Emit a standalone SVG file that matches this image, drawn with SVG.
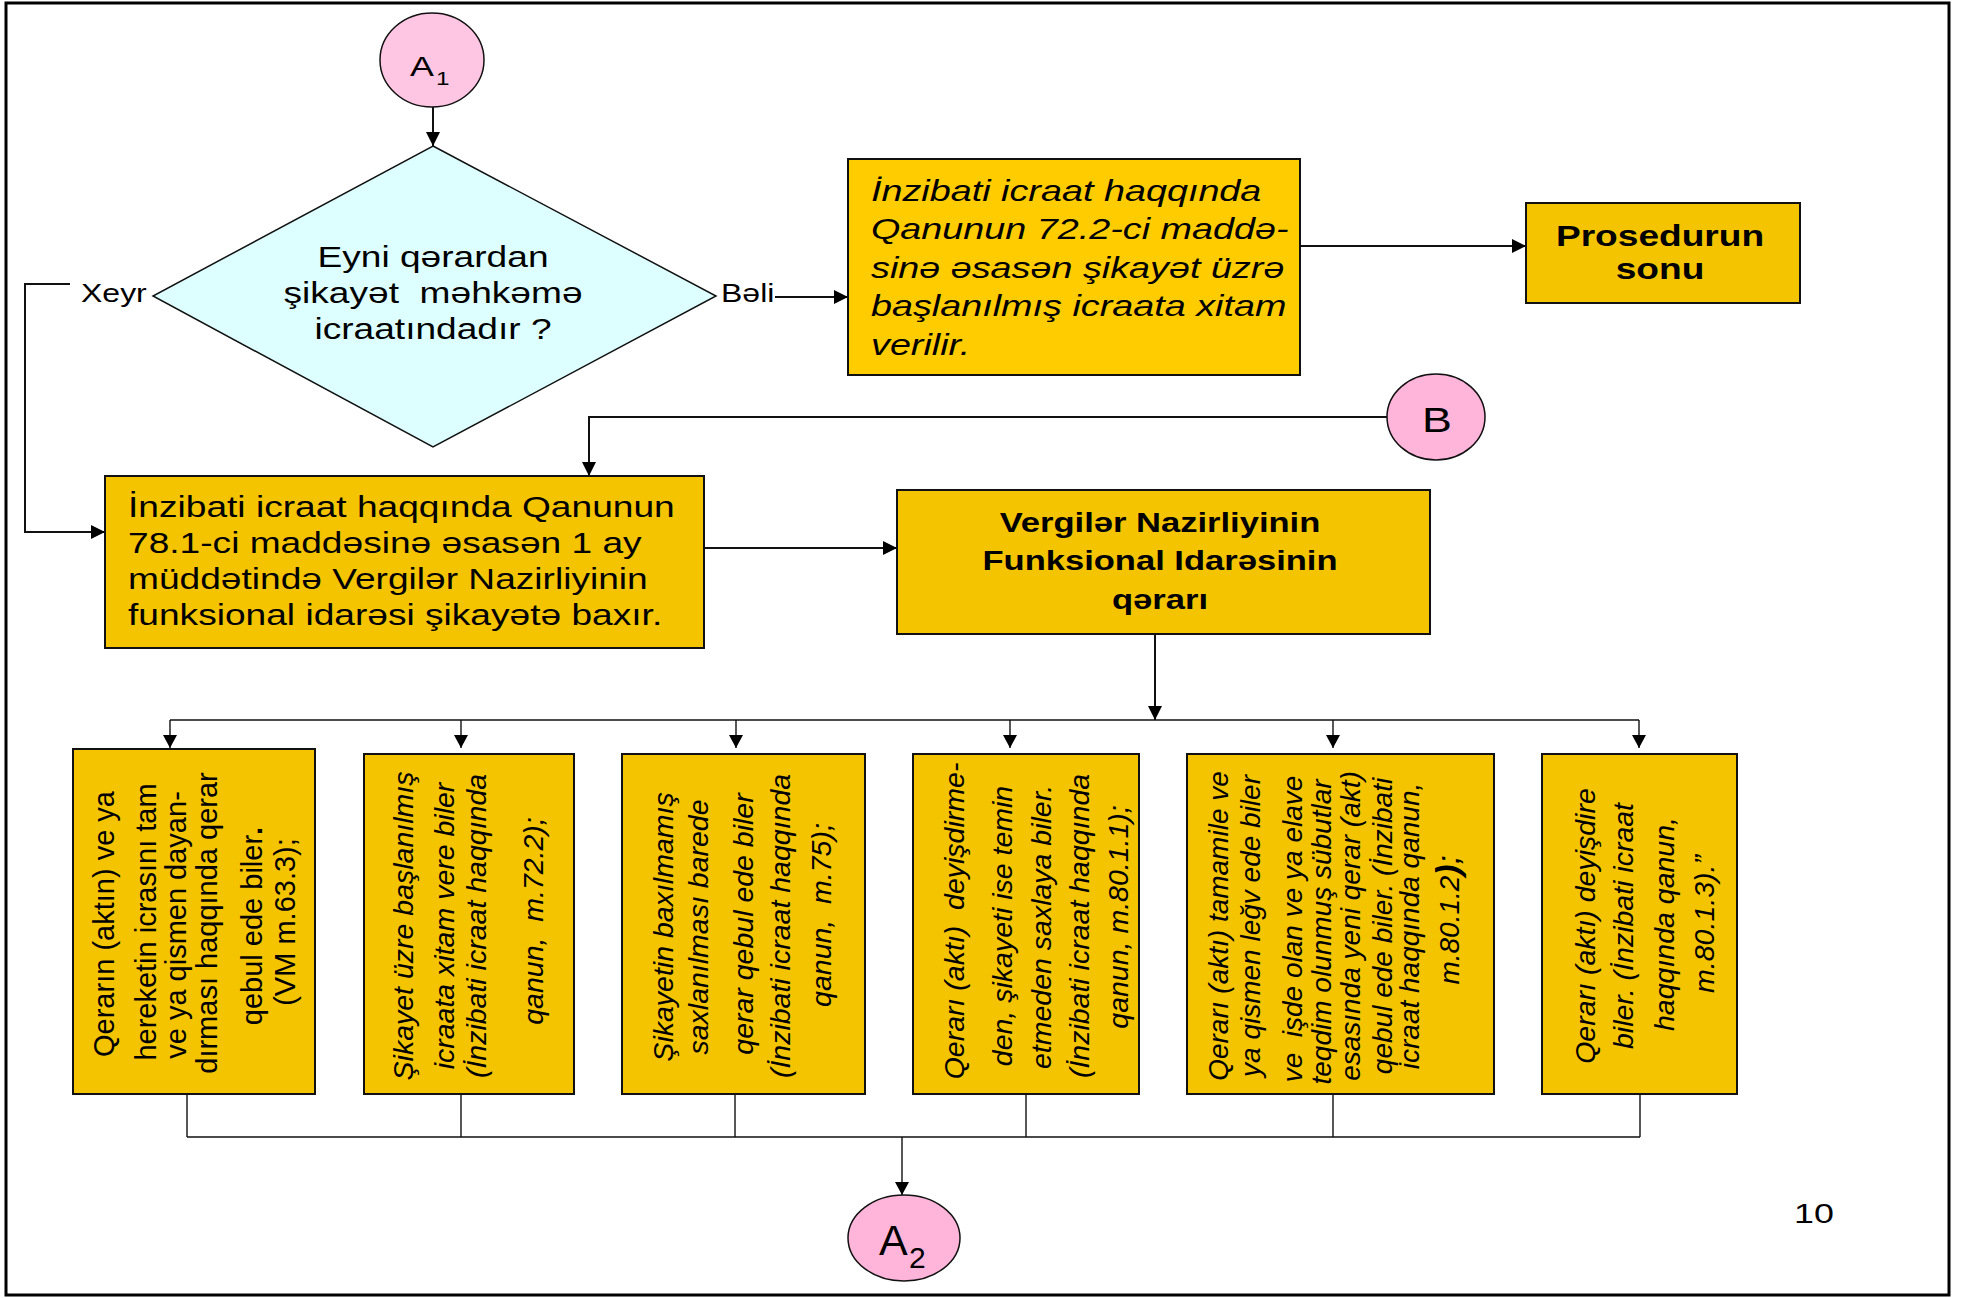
<svg xmlns="http://www.w3.org/2000/svg" width="1964" height="1298" viewBox="0 0 1964 1298">
<style>
text{font-family:"Liberation Sans",Arial,sans-serif;fill:#000}
.t29{font-size:29px}
.t27{font-size:27px}
.it{font-style:italic}
.b{font-weight:bold}
.box{fill:#F5C400;stroke:#111;stroke-width:2}
.pink{stroke:#111;stroke-width:1.5}
.con{fill:none;stroke:#111;stroke-width:2}
.thin{fill:none;stroke:#111;stroke-width:1.4}
.vr{font-size:29px;text-anchor:middle}
.vi{font-size:28.5px;font-style:italic;text-anchor:middle}
</style>
<defs>
<marker id="ah" markerUnits="userSpaceOnUse" markerWidth="14" markerHeight="14" refX="14" refY="7" orient="auto"><path d="M0,0 L14,7 L0,14 z" fill="#000"/></marker>
<marker id="as" markerUnits="userSpaceOnUse" markerWidth="13" markerHeight="14" refX="13" refY="7" orient="auto"><path d="M0,0 L13,7 L0,14 z" fill="#000"/></marker>
</defs>
<rect x="0" y="0" width="1964" height="1298" fill="#fff"/>
<rect x="6" y="3" width="1943" height="1292" fill="none" stroke="#000" stroke-width="3"/>

<g id="connectors">
<path class="con" d="M433,107 V146" marker-end="url(#ah)"/>
<path class="con" d="M70,284 H25 V532 H105" marker-end="url(#ah)"/>
<path class="con" d="M775,297 H848" marker-end="url(#ah)"/>
<path class="con" d="M1300,246 H1526" marker-end="url(#ah)"/>
<path class="con" d="M1387,417 H589 V476" marker-end="url(#ah)"/>
<path class="con" d="M704,548 H897" marker-end="url(#ah)"/>
<path class="con" d="M1155,634 V720" marker-end="url(#ah)"/>
<path class="thin" d="M170,720 H1639"/>
<path class="thin" d="M170,720 V748" marker-end="url(#as)"/>
<path class="thin" d="M461,720 V748" marker-end="url(#as)"/>
<path class="thin" d="M736,720 V748" marker-end="url(#as)"/>
<path class="thin" d="M1010,720 V748" marker-end="url(#as)"/>
<path class="thin" d="M1333,720 V748" marker-end="url(#as)"/>
<path class="thin" d="M1639,720 V748" marker-end="url(#as)"/>
<path class="thin" d="M187,1094 V1137 M461,1094 V1137 M735,1094 V1137 M1026,1094 V1137 M1333,1094 V1137 M1640,1094 V1137 M187,1137 H1640"/>
<path class="thin" d="M902,1137 V1195" marker-end="url(#as)"/>
</g>

<g id="labels">
<text style="font-size:25px" transform="translate(81,302) scale(1.28,1)">Xeyr</text>
<text style="font-size:25px" transform="translate(721,302) scale(1.28,1)">Bəli</text>
</g>

<g id="A1">
<ellipse class="pink" cx="432" cy="60" rx="52" ry="47" fill="#FFC6E3"/>
<text style="font-size:28px" transform="translate(410,76) scale(1.28,1)">A</text>
<text style="font-size:19px" transform="translate(436,85) scale(1.28,1)">1</text>
</g>

<g id="decision">
<polygon points="433,146 716,296 433,447 153,296" fill="#DDFFFF" stroke="#111" stroke-width="1.5"/>
<g transform="translate(433,0) scale(1.28,1)" text-anchor="middle">
<text x="0" y="267" class="t29">Eyni qərardan</text>
<text x="0" y="303" class="t29" xml:space="preserve">şikayət  məhkəmə</text>
<text x="0" y="339" class="t29">icraatındadır ?</text>
</g>
</g>

<g id="xitam">
<rect x="848" y="159" width="452" height="216" fill="#FFCC00" stroke="#111" stroke-width="2"/>
<g transform="translate(871,0) scale(1.28,1)">
<text x="0" y="201" class="it" style="font-size:29.5px">İnzibati icraat haqqında</text>
<text x="0" y="239" class="it" style="font-size:29.5px">Qanunun 72.2-ci maddə-</text>
<text x="0" y="278" class="it" style="font-size:29.5px">sinə əsasən şikayət üzrə</text>
<text x="0" y="316" class="it" style="font-size:29.5px">başlanılmış icraata xitam</text>
<text x="0" y="355" class="it" style="font-size:29.5px">verilir.</text>
</g>
</g>

<g id="sonu">
<rect x="1526" y="203" width="274" height="100" class="box" stroke-width="2.5"/>
<g transform="translate(1660,0) scale(1.28,1)" text-anchor="middle">
<text x="0" y="246" class="t29 b">Prosedurun</text>
<text x="0" y="279" class="t29 b">sonu</text>
</g>
</g>

<g id="B">
<ellipse class="pink" cx="1436" cy="417" rx="49" ry="43" fill="#FFB4DA"/>
<text style="font-size:35px" text-anchor="middle" transform="translate(1437,432) scale(1.28,1)">B</text>
</g>

<g id="baxir">
<rect x="105" y="476" width="599" height="172" class="box" stroke-width="3.5"/>
<g transform="translate(128,0) scale(1.28,1)">
<text x="0" y="517" class="t29">İnzibati icraat haqqında Qanunun</text>
<text x="0" y="553" class="t29">78.1-ci maddəsinə əsasən 1 ay</text>
<text x="0" y="589" class="t29">müddətində Vergilər Nazirliyinin</text>
<text x="0" y="625" class="t29">funksional idarəsi şikayətə baxır.</text>
</g>
</g>

<g id="qerar">
<rect x="897" y="490" width="533" height="144" class="box"/>
<g transform="translate(1160,0) scale(1.28,1)" text-anchor="middle">
<text x="0" y="532" class="t27 b">Vergilər Nazirliyinin</text>
<text x="0" y="570" class="t27 b">Funksional Idarəsinin</text>
<text x="0" y="609" class="t27 b">qərarı</text>
</g>
</g>

<g id="box1">
<rect x="73" y="749" width="242" height="345" class="box"/>
<text class="vr" transform="translate(114,924) rotate(-90)">Qerarın (aktın) ve ya</text>
<text class="vr" transform="translate(156,922) rotate(-90)">hereketin icrasını tam</text>
<text class="vr" transform="translate(186,925) rotate(-90)">ve ya qismen dayan-</text>
<text class="vr" transform="translate(217,923) rotate(-90)">dırması haqqında qerar</text>
<text class="vr" transform="translate(262,926) rotate(-90)">qebul ede biler<tspan font-weight="bold">.</tspan></text>
<text class="vr" transform="translate(295,922) rotate(-90)">(VM m.63.3);</text>
</g>

<g id="box2">
<rect x="364" y="754" width="210" height="340" class="box"/>
<text class="vi" transform="translate(413,926) rotate(-90)">Şikayet üzre başlanılmış</text>
<text class="vi" transform="translate(454,926) rotate(-90)">icraata xitam vere biler</text>
<text class="vi" transform="translate(486,926) rotate(-90)">(İnzibati icraat haqqında</text>
<text class="vi" transform="translate(543,921) rotate(-90)" xml:space="preserve">qanun,  m.72.2);</text>
</g>

<g id="box3">
<rect x="622" y="754" width="243" height="340" class="box"/>
<text class="vi" transform="translate(673,927) rotate(-90)">Şikayetin baxılmamış</text>
<text class="vi" transform="translate(708,927) rotate(-90)">saxlanılması barede</text>
<text class="vi" transform="translate(753,924) rotate(-90)">qerar qebul ede biler</text>
<text class="vi" transform="translate(790,926) rotate(-90)">(İnzibati icraat haqqında</text>
<text class="vi" transform="translate(831,915) rotate(-90)" xml:space="preserve">qanun,  m.75);</text>
</g>

<g id="box4">
<rect x="913" y="754" width="226" height="340" class="box"/>
<text class="vi" transform="translate(964,921) rotate(-90)" xml:space="preserve">Qerarı (aktı)  deyişdirme-</text>
<text class="vi" transform="translate(1012,926) rotate(-90)">den, şikayeti ise temin</text>
<text class="vi" transform="translate(1051,927) rotate(-90)">etmeden saxlaya biler.</text>
<text class="vi" transform="translate(1089,926) rotate(-90)">(İnzibati icraat haqqında</text>
<text class="vi" transform="translate(1128,917) rotate(-90)">qanun, m.80.1.1);</text>
</g>

<g id="box5">
<rect x="1187" y="754" width="307" height="340" class="box"/>
<text class="vi" style="font-size:28px" transform="translate(1228,926) rotate(-90)">Qerarı (aktı) tamamile ve</text>
<text class="vi" style="font-size:28px" transform="translate(1260,926) rotate(-90)">ya qismen leğv ede biler</text>
<text class="vi" style="font-size:28px" transform="translate(1302,929) rotate(-90)" xml:space="preserve">ve  işde olan ve ya elave</text>
<text class="vi" style="font-size:28px" transform="translate(1331,932) rotate(-90)">teqdim olunmuş sübutlar</text>
<text class="vi" style="font-size:28px" transform="translate(1360,926) rotate(-90)">esasında yeni qerar (akt)</text>
<text class="vi" style="font-size:28px" transform="translate(1392,926) rotate(-90)">qebul ede biler. (İnzibati</text>
<text class="vi" style="font-size:28px" transform="translate(1419,926) rotate(-90)">icraat haqqında qanun,</text>
<text class="vi" style="font-size:28px" transform="translate(1459,920) rotate(-90)">m.80.1.2<tspan font-weight="bold" font-size="34">)</tspan><tspan font-size="32">;</tspan></text>
</g>

<g id="box6">
<rect x="1542" y="754" width="195" height="340" class="box"/>
<text class="vi" transform="translate(1595,926) rotate(-90)">Qerarı (aktı) deyişdire</text>
<text class="vi" transform="translate(1633,926) rotate(-90)">biler. (İnzibati icraat</text>
<text class="vi" transform="translate(1674,924) rotate(-90)">haqqında qanun,</text>
<text class="vi" transform="translate(1714,924) rotate(-90)">m.80.1.3).”</text>
</g>

<g id="A2">
<ellipse class="pink" cx="904" cy="1238" rx="56" ry="43" fill="#FFB4DA"/>
<text style="font-size:43px" x="879" y="1255">A</text>
<text style="font-size:30px" x="909" y="1268">2</text>
</g>

<g id="page">
<text style="font-size:28px" transform="translate(1794,1223) scale(1.28,1)">10</text>
</g>
</svg>
